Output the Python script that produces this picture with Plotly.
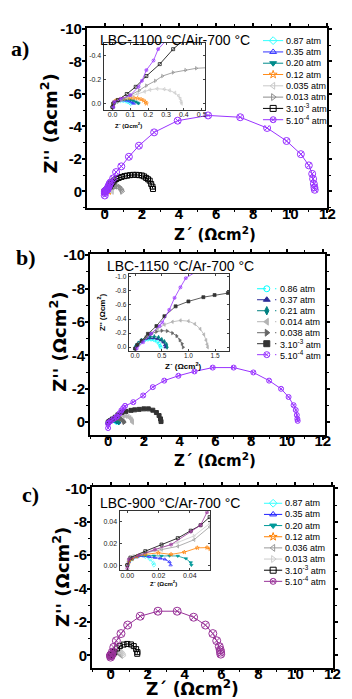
import plotly.graph_objects as go

W, H = 352, 699

# ======================= DATA =======================
# ---- panel a : LBC-1100 °C/Air-700 °C  (Z' , Z'' in Ohm cm2) ----
a_title = "LBC-1100 °C/Air-700 °C"
a_names = ["0.87 atm", "0.35 atm", "0.20 atm", "0.12 atm", "0.035 atm", "0.013 atm",
           "3.10<sup>-3</sup> atm", "5.10<sup>-4</sup> atm"]
a_re_087 = [0.0, 0.005, 0.01, 0.02, 0.03, 0.045, 0.06, 0.075, 0.085, 0.095, 0.1, 0.102]
a_im_087 = [0.03, 0.0, -0.01, -0.017, -0.021, -0.023, -0.022, -0.019, -0.014, -0.008, -0.003, 0.0]
a_re_035 = [0.0, 0.005, 0.01, 0.02, 0.035, 0.05, 0.065, 0.08, 0.095, 0.105, 0.115, 0.12]
a_im_035 = [0.03, 0.0, -0.012, -0.02, -0.025, -0.028, -0.028, -0.026, -0.021, -0.014, -0.006, 0.0]
a_re_020 = [0.0, 0.005, 0.01, 0.02, 0.04, 0.06, 0.08, 0.1, 0.115, 0.13, 0.14, 0.146]
a_im_020 = [0.03, 0.0, -0.013, -0.022, -0.029, -0.033, -0.034, -0.031, -0.025, -0.016, -0.007, 0.0]
a_re_012 = [0.0, 0.005, 0.01, 0.02, 0.04, 0.06, 0.08, 0.1, 0.12, 0.14, 0.16, 0.175, 0.185, 0.19]
a_im_012 = [0.03, 0.0, -0.014, -0.025, -0.034, -0.04, -0.044, -0.047, -0.047, -0.044, -0.036, -0.025, -0.012, 0.0]
a_re_0035 = [0.0, 0.01, 0.03, 0.05, 0.08, 0.11, 0.14, 0.18, 0.21, 0.25, 0.29, 0.32, 0.35, 0.37, 0.38, 0.385, 0.387]
a_im_0035 = [0.03, -0.005, -0.02, -0.033, -0.05, -0.065, -0.08, -0.1, -0.115, -0.124, -0.12, -0.11, -0.09, -0.065, -0.04, -0.015, 0.0]
a_re_0013 = [0.0, 0.01, 0.03, 0.06, 0.1, 0.15, 0.19, 0.24, 0.28, 0.34, 0.41, 0.47, 0.53, 0.6, 0.7, 0.8, 0.87, 0.91, 0.93]
a_im_0013 = [0.03, -0.005, -0.014, -0.04, -0.07, -0.11, -0.15, -0.19, -0.23, -0.26, -0.28, -0.295, -0.3, -0.32, -0.32, -0.26, -0.17, -0.08, 0.0]
a_re_3e3 = [0.0, 0.005, 0.03, 0.08, 0.13, 0.19, 0.265, 0.34, 0.42, 0.52, 0.62, 0.75, 0.9, 1.06, 1.2, 1.36, 1.53,
            1.7, 1.85, 2.0, 2.12, 2.23, 2.33, 2.42, 2.5, 2.57, 2.6]
a_im_3e3 = [0.03, 0.0, -0.03, -0.08, -0.14, -0.23, -0.33, -0.455, -0.56, -0.68, -0.76, -0.83, -0.89, -0.94, -0.97, -1.0, -1.02,
            -1.02, -1.0, -0.98, -0.92, -0.83, -0.75, -0.66, -0.46, -0.29, -0.15]
a_re_5e4 = [0.0, 0.0, 0.005, 0.01, 0.046, 0.1, 0.146, 0.165, 0.19, 0.23, 0.256, 0.31, 0.45, 0.61, 0.89, 1.30, 1.84, 2.66,
            3.93, 5.57, 7.30, 8.75, 9.8, 10.57, 11.0, 11.18, 11.23, 11.27, 11.3, 11.32]
a_im_5e4 = [0.25, 0.1, 0.03, -0.014, -0.04, -0.07, -0.14, -0.19, -0.28, -0.36, -0.455, -0.55, -0.8, -1.19, -1.54, -2.13, -2.81, -3.63,
            -4.35, -4.67, -4.56, -3.9, -3.1, -2.29, -1.6, -1.08, -0.77, -0.46, -0.25, -0.1]

# ---- panel b : LBC-1150 °C/Ar-700 °C ----
b_title = "LBC-1150 °C/Ar-700 °C"
b_names = ["0.86 atm", "0.37 atm", "0.21 atm", "0.014 atm", "0.038 atm",
           "3.10<sup>-3</sup> atm", "5.10<sup>-4</sup> atm"]
b_re_086 = [0.0, 0.02, 0.06, 0.12, 0.18, 0.24, 0.3, 0.36, 0.41, 0.45, 0.47, 0.48]
b_im_086 = [0.02, -0.02, -0.05, -0.08, -0.1, -0.11, -0.11, -0.1, -0.08, -0.05, -0.02, 0.0]
b_re_037 = [0.0, 0.02, 0.06, 0.12, 0.2, 0.28, 0.35, 0.42, 0.48, 0.53, 0.56, 0.57]
b_im_037 = [0.02, -0.02, -0.06, -0.09, -0.12, -0.13, -0.13, -0.12, -0.1, -0.07, -0.03, 0.0]
b_re_021 = [0.0, 0.02, 0.06, 0.12, 0.2, 0.28, 0.36, 0.44, 0.5, 0.55, 0.59, 0.6]
b_im_021 = [0.02, -0.02, -0.06, -0.1, -0.13, -0.15, -0.15, -0.14, -0.11, -0.08, -0.04, 0.0]
b_re_0014 = [0.0, 0.05, 0.12, 0.2, 0.3, 0.42, 0.55, 0.7, 0.85, 1.0, 1.12, 1.22, 1.29, 1.33, 1.35, 1.36]
b_im_0014 = [0.02, -0.04, -0.09, -0.14, -0.2, -0.26, -0.32, -0.36, -0.38, -0.37, -0.33, -0.26, -0.18, -0.1, -0.04, 0.0]
b_re_0038 = [0.0, 0.05, 0.12, 0.2, 0.3, 0.4, 0.5, 0.6, 0.7, 0.78, 0.84, 0.88, 0.9]
b_im_0038 = [0.02, -0.04, -0.09, -0.14, -0.19, -0.22, -0.235, -0.23, -0.2, -0.16, -0.1, -0.05, 0.0]
b_re_3e3 = [0.0, 0.04, 0.12, 0.24, 0.4, 0.55, 0.76, 1.0, 1.28, 1.49, 1.74, 2.0, 2.25, 2.5, 2.7, 2.85, 2.93, 2.96]
b_im_3e3 = [0.02, -0.03, -0.09, -0.19, -0.3, -0.44, -0.58, -0.65, -0.71, -0.74, -0.77, -0.8, -0.8, -0.72, -0.58, -0.4, -0.2, -0.04]
b_re_5e4 = [0.0, 0.0, 0.03, 0.15, 0.3, 0.46, 0.51, 0.64, 0.74, 0.85, 0.95, 1.41, 1.96, 2.5, 3.14, 3.93, 4.83, 5.85,
            7.02, 8.12, 9.0, 9.67, 10.09, 10.37, 10.49, 10.55, 10.58, 10.6]
b_im_5e4 = [0.35, 0.1, 0.02, -0.07, -0.19, -0.3, -0.35, -0.53, -0.7, -0.85, -0.98, -1.2, -1.6, -2.1, -2.49, -2.78, -3.04, -3.27,
            -3.27, -2.98, -2.49, -2.0, -1.51, -1.02, -0.73, -0.43, -0.2, -0.08]

# ---- panel c : LBC-900 °C/Ar-700 °C ----
c_title = "LBC-900 °C/Ar-700 °C"
c_names = ["0.87 atm", "0.35 atm", "0.20 atm", "0.12 atm", "0.036 atm", "0.013 atm",
           "3.10<sup>-3</sup> atm", "5.10<sup>-4</sup> atm"]
c_re_087 = [0.0, 0.001, 0.003, 0.0073, 0.0115, 0.0146, 0.0167, 0.017]
c_im_087 = [0.0, -0.003, -0.0054, -0.0084, -0.0078, -0.0054, -0.0018, 0.0]
c_re_035 = [0.0, 0.001, 0.003, 0.006, 0.0104, 0.014, 0.0177, 0.021, 0.024, 0.027, 0.0277]
c_im_035 = [0.0, -0.003, -0.0055, -0.0075, -0.0084, -0.0078, -0.0069, -0.0062, -0.0054, -0.003, 0.0]
c_re_020 = [0.0, 0.001, 0.003, 0.006, 0.0115, 0.017, 0.0219, 0.027, 0.0323, 0.0375, 0.0406, 0.041]
c_im_020 = [0.0, -0.003, -0.0056, -0.0078, -0.009, -0.0086, -0.0084, -0.0086, -0.0084, -0.006, -0.0024, 0.0]
c_re_012 = [0.0, 0.001, 0.003, 0.006, 0.0115, 0.0198, 0.028, 0.0365, 0.0448, 0.051, 0.053, 0.06, 0.066, 0.07]
c_im_012 = [0.0, -0.003, -0.0058, -0.008, -0.0099, -0.0114, -0.0099, -0.012, -0.016, -0.0162, -0.015, -0.012, -0.006, 0.0]
c_re_0036 = [0.0, 0.001, 0.004, 0.0115, 0.0219, 0.0323, 0.0427, 0.0527, 0.08, 0.15, 0.25, 0.35, 0.45, 0.52, 0.56, 0.57]
c_im_0036 = [0.0, -0.0054, -0.008, -0.0114, -0.0144, -0.0174, -0.0235, -0.0355, -0.05, -0.1, -0.15, -0.18, -0.16, -0.1, -0.04, 0.0]
c_re_0013 = [0.0, 0.001, 0.004, 0.0115, 0.0219, 0.0323, 0.0427, 0.0527, 0.08, 0.15, 0.25, 0.35, 0.45, 0.55, 0.63, 0.68, 0.7]
c_im_0013 = [0.0, -0.0054, -0.0085, -0.012, -0.0168, -0.021, -0.027, -0.0385, -0.055, -0.11, -0.18, -0.24, -0.27, -0.25, -0.18, -0.09, 0.0]
c_re_3e3 = [0.0, 0.002, 0.0115, 0.0219, 0.0323, 0.0406, 0.0469, 0.0527, 0.1, 0.2, 0.35, 0.5, 0.7, 0.9, 1.1, 1.25, 1.38, 1.45, 1.44]
c_im_3e3 = [0.0, -0.0069, -0.0129, -0.019, -0.025, -0.0319, -0.037, -0.0445, -0.09, -0.2, -0.42, -0.56, -0.65, -0.69, -0.66, -0.56, -0.38, -0.2, -0.1]
c_re_5e4 = [0.0, 0.0, 0.001, 0.0073, 0.0177, 0.028, 0.0406, 0.0469, 0.051, 0.055, 0.09, 0.17, 0.31, 0.56, 0.92, 1.6, 2.56, 3.6,
            4.49, 5.13, 5.53, 5.74, 5.88, 5.93, 5.95, 5.96]
c_im_5e4 = [0.1, 0.003, -0.0054, -0.009, -0.0144, -0.019, -0.031, -0.037, -0.049, -0.06, -0.2, -0.49, -0.88, -1.31, -1.82, -2.35, -2.65, -2.65,
            -2.29, -1.82, -1.31, -0.88, -0.53, -0.33, -0.2, -0.08]

# tick labels
main_xticks = [0, 2, 4, 6, 8, 10, 12]
main_yticks = [-10, -8, -6, -4, -2, 0]
main_ytext = ["-10", "-8", "-6", "-4", "-2", "0"]
a_in_xticks = [0.0, 0.1, 0.2, 0.3, 0.4, 0.5]
a_in_xtext = ["0.0", "0.1", "0.2", "0.3", "0.4", "0.5"]
a_in_yticks = [-0.4, -0.2, 0.0]
a_in_ytext = ["-0.4", "-0.2", "0.0"]
b_in_xticks = [0.0, 0.5, 1.0, 1.5]
b_in_xtext = ["0.0", "0.5", "1.0", "1.5"]
b_in_yticks = [-1.0, -0.8, -0.6, -0.4, -0.2, 0.0]
b_in_ytext = ["-1.0", "-0.8", "-0.6", "-0.4", "-0.2", "0.0"]
c_in_xticks = [0.0, 0.02, 0.04]
c_in_xtext = ["0.00", "0.02", "0.04"]
c_in_yticks = [0.0, 0.02, 0.04]
c_in_ytext = ["0.00", "0.02", "0.04"]

# ======================= STYLE =======================
SANS = "Liberation Sans, Arial, sans-serif"
BOLDT = "DejaVu Sans, Liberation Sans, sans-serif"
SERIF = "Liberation Serif, Times New Roman, serif"

a_series = [(a_re_087, a_im_087, "#33FFFF", "diamond-open"),
            (a_re_035, a_im_035, "#3333FF", "triangle-up-open"),
            (a_re_020, a_im_020, "#008B8B", "triangle-down"),
            (a_re_012, a_im_012, "#FF8C1A", "star-open"),
            (a_re_0035, a_im_0035, "#C8C8C8", "triangle-left-open"),
            (a_re_0013, a_im_0013, "#8C8C8C", "triangle-right-open"),
            (a_re_3e3, a_im_3e3, "#000000", "square-open"),
            (a_re_5e4, a_im_5e4, "#9933FF", "circle-x-open")]
b_series = [(b_re_086, b_im_086, "#00FFFF", "circle-open"),
            (b_re_037, b_im_037, "#2A2A99", "triangle-up"),
            (b_re_021, b_im_021, "#008080", "diamond-tall"),
            (b_re_0014, b_im_0014, "#B4B4B4", "triangle-left"),
            (b_re_0038, b_im_0038, "#666666", "triangle-right"),
            (b_re_3e3, b_im_3e3, "#333333", "square"),
            (b_re_5e4, b_im_5e4, "#9933FF", "circle-x-open")]
c_series = [(c_re_087, c_im_087, "#33FFFF", "diamond-open"),
            (c_re_035, c_im_035, "#2222FF", "triangle-up-open"),
            (c_re_020, c_im_020, "#009999", "triangle-down"),
            (c_re_012, c_im_012, "#FF8000", "star-open"),
            (c_re_0036, c_im_0036, "#999999", "triangle-left-open"),
            (c_re_0013, c_im_0013, "#CCCCCC", "triangle-right-open"),
            (c_re_3e3, c_im_3e3, "#000000", "square-open"),
            (c_re_5e4, c_im_5e4, "#993399", "circle-x-open")]


def pxx(v):
    return v / W


def pxy(v):
    return 1 - v / H


fig = go.Figure()
layout = dict(width=W, height=H, margin=dict(l=0, r=0, t=0, b=0),
              paper_bgcolor="white", plot_bgcolor="white", showlegend=False)
annotations = []


def main_axes(n, x0, x1, y0, y1, xr, yr):
    layout["xaxis" + ("" if n == 1 else str(n))] = dict(
        domain=[pxx(x0), pxx(x1)], range=xr, anchor="y" + ("" if n == 1 else str(n)),
        tickmode="array", tickvals=main_xticks, ticks="outside", ticklen=3, tickwidth=1.5,
        ticklabelstandoff=-12,
        minor=dict(tickmode="linear", tick0=0, dtick=1, ticks="outside", ticklen=2, tickwidth=1, tickcolor="black"),
        showline=True, linewidth=2, linecolor="black", mirror="allticks", showgrid=False, zeroline=False,
        tickfont=dict(family=SANS, size=15, color="black", weight="bold"), tickcolor="black")
    layout["yaxis" + ("" if n == 1 else str(n))] = dict(
        domain=[pxy(y1), pxy(y0)], range=yr, anchor="x" + ("" if n == 1 else str(n)),
        tickmode="array", tickvals=main_yticks, ticktext=main_ytext, ticks="outside", ticklen=3, tickwidth=1.5,
        ticklabelstandoff=-3,
        minor=dict(tickmode="linear", tick0=0, dtick=1, ticks="outside", ticklen=2, tickwidth=1, tickcolor="black"),
        showline=True, linewidth=2, linecolor="black", mirror="allticks", showgrid=False, zeroline=False,
        tickfont=dict(family=SANS, size=15, color="black", weight="bold"), tickcolor="black")


def inset_axes(n, x0, x1, y0, y1, xr, yr, xt, xtt, yt, ytt, fs):
    layout["xaxis" + str(n)] = dict(
        domain=[pxx(x0), pxx(x1)], range=xr, anchor="y" + str(n),
        tickmode="array", tickvals=xt, ticktext=xtt, ticks="inside", ticklen=2, tickwidth=0.8,
        ticklabelstandoff=-2,
        showline=True, linewidth=1, linecolor="#333", mirror="allticks", showgrid=False, zeroline=False,
        tickfont=dict(family=SANS, size=fs, color="#222"))
    layout["yaxis" + str(n)] = dict(
        domain=[pxy(y1), pxy(y0)], range=yr, anchor="x" + str(n),
        tickmode="array", tickvals=yt, ticktext=ytt, ticks="inside", ticklen=2, tickwidth=0.8,
        showline=True, linewidth=1, linecolor="#333", mirror="allticks", showgrid=False, zeroline=False,
        tickfont=dict(family=SANS, size=fs, color="#222"))


def legend_axes(n, x0, x1, yfirst, ylast, nrows):
    step = (ylast - yfirst) / (nrows - 1)
    layout["xaxis" + str(n)] = dict(domain=[pxx(x0), pxx(x1)], range=[0, 1], visible=False,
                                    anchor="y" + str(n), fixedrange=True)
    layout["yaxis" + str(n)] = dict(domain=[pxy(ylast + step / 2), pxy(yfirst - step / 2)],
                                    range=[nrows - 0.5, -0.5], visible=False, anchor="x" + str(n), fixedrange=True)


def add_panel(series, names, mainn, insetn, legn, msize, isize, inset_flip, leg_dash, purple_size):
    mx = "x" + ("" if mainn == 1 else str(mainn))
    my = "y" + ("" if mainn == 1 else str(mainn))
    for i, ((zre, zim, col, sym), name) in enumerate(zip(series, names)):
        last = i == len(series) - 1
        ms = purple_size if last else msize
        mk = dict(symbol=sym, size=ms, color=col, line=dict(color=col, width=1))
        fig.add_trace(go.Scatter(x=zre, y=zim, xaxis=mx, yaxis=my, mode="lines+markers",
                                 line=dict(color=col, width=1), marker=mk, name=name, hoverinfo="skip"))
        yin = [-v for v in zim] if inset_flip else zim
        fig.add_trace(go.Scatter(x=zre, y=yin, xaxis="x" + str(insetn), yaxis="y" + str(insetn),
                                 mode="lines+markers", line=dict(color=col, width=0.8),
                                 marker=dict(symbol=sym, size=isize, color=col, line=dict(color=col, width=0.7)),
                                 name=name, hoverinfo="skip"))
        # legend sample
        fig.add_trace(go.Scatter(x=[0, 1], y=[i, i], xaxis="x" + str(legn), yaxis="y" + str(legn),
                                 mode="lines", line=dict(color=col, width=1, dash=leg_dash), hoverinfo="skip"))
        fig.add_trace(go.Scatter(x=[0.5], y=[i], xaxis="x" + str(legn), yaxis="y" + str(legn),
                                 mode="markers", marker=dict(symbol=sym, size=6, color=col,
                                                             line=dict(color=col, width=1)), hoverinfo="skip"))
        annotations.append(dict(x=1, y=i, xref="x" + str(legn), yref="y" + str(legn), text=name,
                                xanchor="left", yanchor="middle", showarrow=False, xshift=1,
                                font=dict(family=SANS, size=9, color="black")))


# ---------- panel a ----------
main_axes(1, 89, 335, 20, 202, [-0.96, 12], [1.0, -10.06])
inset_axes(2, 106, 210, 35, 102.7, [-0.05, 0.52], [0.05, -0.51],
           a_in_xticks, a_in_xtext, a_in_yticks, a_in_ytext, 7)
legend_axes(3, 269, 290, 33, 113, 8)
add_panel(a_series, a_names, 1, 2, 3, 5, 3, False, None, 7)

# ---------- panel b ----------
main_axes(4, 92.3, 333, 249, 431.7, [-1.0, 12.15], [0.75, -10.06])
inset_axes(5, 131.7, 234.3, 269, 346.7, [-0.12, 1.76], [0.05, -1.04],
           b_in_xticks, b_in_xtext, b_in_yticks, b_in_ytext, 6.5)
legend_axes(6, 263, 283, 284, 350.7, 7)
add_panel(b_series, b_names, 4, 5, 6, 4, 3, False, "dash", 5)

# ---------- panel c ----------
main_axes(7, 94.3, 340.7, 484.3, 667.3, [-1.0, 12.03], [0.73, -10.1])
inset_axes(8, 122.3, 215, 509, 569, [-0.005, 0.053], [-0.005, 0.05],
           c_in_xticks, c_in_xtext, c_in_yticks, c_in_ytext, 7)
legend_axes(9, 270, 289, 501, 580, 8)
add_panel(c_series, c_names, 7, 8, 9, 5, 3, True, None, 8)


def ann(text, x, y, size, family, angle=0, weight="normal", xanchor="center"):
    annotations.append(dict(text=text, x=pxx(x), y=pxy(y), xref="paper", yref="paper", showarrow=False,
                            xanchor=xanchor, yanchor="middle", textangle=angle,
                            font=dict(family=family, size=size, color="black", weight=weight)))


# panel letters
ann("a)", 20, 41, 22, SERIF, weight="bold")
ann("b)", 26.5, 252, 22, SERIF, weight="bold")
ann("c)", 31, 492, 22, SERIF, weight="bold")
# panel titles
ann(a_title, 100, 32, 14, SANS, xanchor="left")
ann(b_title, 107, 260.5, 14, SANS, xanchor="left")
ann(c_title, 100, 501, 14, SANS, xanchor="left")
# axis titles
ann("Z'' (Ωcm<sup>2</sup>)", 50, 117, 18, BOLDT, angle=-90, weight="bold")
ann("Z'' (Ωcm<sup>2</sup>)", 60, 338, 18, BOLDT, angle=-90, weight="bold")
ann("Z'' (Ωcm<sup>2</sup>)", 63, 576, 18, BOLDT, angle=-90, weight="bold")
ann("Z´ (Ωcm<sup>2</sup>)", 220, 229, 15, BOLDT, weight="bold")
ann("Z´ (Ωcm<sup>2</sup>)", 220, 457, 15, BOLDT, weight="bold")
ann("Z´ (Ωcm<sup>2</sup>)", 197, 688, 17, BOLDT, weight="bold")
# inset axis titles
ann("Z´ (Ωcm<sup>2</sup>)", 131, 118, 6, SANS, weight="bold")
ann("Z´ (Ωcm<sup>2</sup>)", 188, 362, 8, SANS, weight="bold")
ann("Z'' (Ωcm<sup>2</sup>)", 104, 308, 8, SANS, angle=-90, weight="bold")
ann("Z´ (Ωcm<sup>2</sup>)", 167, 582, 6, SANS, weight="bold")

layout["annotations"] = annotations
fig.update_layout(**layout)
fig.write_html("out.html", config={"displayModeBar": False},
               post_script="document.body.style.margin='0px';document.body.style.padding='0px';")
